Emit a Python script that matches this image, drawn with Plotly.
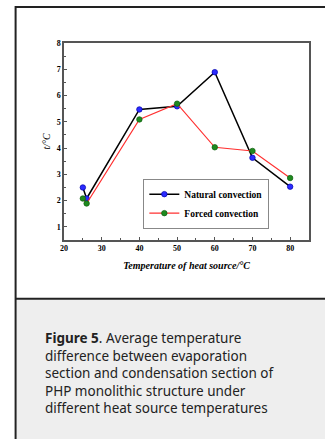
import plotly.graph_objects as go

# Data
heat_source = [25, 26, 40, 50, 60, 70, 80]
natural = [2.5, 2.08, 5.47, 5.59, 6.89, 3.63, 2.53]
forced = [2.08, 1.89, 5.09, 5.69, 4.03, 3.89, 2.86]
series_names = ["Natural convection", "Forced convection"]
x_title = "Temperature of heat source/°C"
y_title = "t/°C"
caption_lines = [
    "<b>Figure 5</b>. Average temperature",
    "difference between evaporation",
    "section and condensation section of",
    "PHP monolithic structure under",
    "different heat source temperatures",
]

W, H = 325, 439
L, R, T, B = 63.5, 309, 43, 240.5


def px(x):
    return (x - L) / (R - L)


def py(y):
    return (B - y) / (B - T)


fig = go.Figure()
fig.add_trace(go.Scatter(
    x=heat_source, y=natural, name=series_names[0], mode="lines+markers",
    line=dict(color="#000000", width=1.5),
    marker=dict(symbol="circle", size=5.5, color="#2b2bff", line=dict(color="#0000aa", width=0.7)),
))
fig.add_trace(go.Scatter(
    x=heat_source, y=forced, name=series_names[1], mode="lines+markers",
    line=dict(color="#ff3030", width=1.2),
    marker=dict(symbol="circle", size=5.5, color="#1f8a1f", line=dict(color="#0f5f0f", width=0.7)),
))

axis_common = dict(
    showline=True, mirror=True, linecolor="#555555", linewidth=1.5,
    ticks="inside", ticklen=3, tickcolor="#555555", showgrid=False, zeroline=False,
    tickfont=dict(family="Liberation Serif", size=8, color="#000000", weight="bold"),
)

fig.update_xaxes(range=[20, 85], tick0=20, dtick=10,
                 minor=dict(dtick=5, ticks="inside", ticklen=2, tickcolor="#555555"),
                 title=dict(text="<b><i>" + x_title + "</i></b>",
                            font=dict(family="Liberation Serif", size=10, color="#000"), standoff=10),
                 **axis_common)
fig.update_yaxes(range=[0.5, 8], tick0=1, dtick=1,
                 minor=dict(dtick=0.5, ticks="inside", ticklen=2, tickcolor="#555555"),
                 title=dict(text="<i>" + y_title + "</i>",
                            font=dict(family="Liberation Serif", size=10, color="#000"), standoff=4),
                 **axis_common)

shapes = [
    dict(type="rect", xref="paper", yref="paper", x0=px(16), x1=px(340), y0=py(300), y1=py(450),
         fillcolor="#eeeeee", line=dict(width=0), layer="below"),
    dict(type="line", xref="paper", yref="paper", x0=px(15), x1=px(15), y0=py(6), y1=py(450),
         line=dict(color="#222222", width=2)),
    dict(type="line", xref="paper", yref="paper", x0=px(15), x1=px(340), y0=py(7), y1=py(7),
         line=dict(color="#222222", width=2)),
    dict(type="line", xref="paper", yref="paper", x0=px(15), x1=px(340), y0=py(299.5), y1=py(299.5),
         line=dict(color="#222222", width=2)),
]

annotations = [
    dict(xref="paper", yref="paper", x=px(42), y=py(328), xanchor="left", yanchor="top",
         text="<br>".join(caption_lines), showarrow=False, align="left",
         font=dict(family="Noto Sans", size=13.5, color="#222222")),
]

fig.update_layout(
    width=W, height=H,
    margin=dict(l=L, r=W - R, t=T, b=H - B, pad=0),
    paper_bgcolor="white", plot_bgcolor="white",
    shapes=shapes, annotations=annotations,
    showlegend=True,
    legend=dict(x=px(143), y=py(179), xanchor="left", yanchor="top",
                bgcolor="white", bordercolor="#888888", borderwidth=1,
                font=dict(family="Liberation Serif", size=9.5, color="#000", weight="bold"),
                tracegroupgap=0, itemwidth=30),
)

fig.write_html("out.html", config={"displayModeBar": False},
               post_script="document.body.style.margin='0';document.body.style.overflow='hidden';")
